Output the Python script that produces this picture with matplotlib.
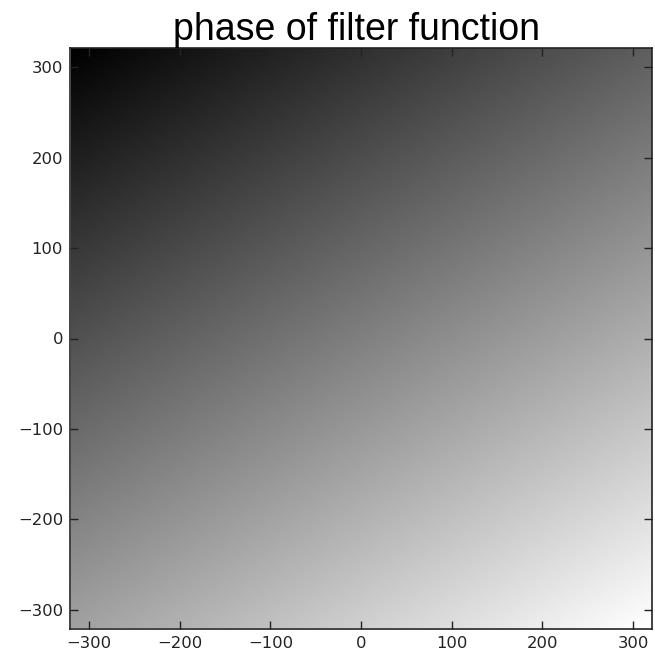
import numpy as np
import matplotlib
matplotlib.use("Agg")
import matplotlib.pyplot as plt

# Data: linear phase ramp of the filter function, sampled on a square grid
grid_half_width = 320          # samples run from -320 to 320
phase_slope_x = 0.37           # relative phase increase per unit x (read from gray levels)
phase_slope_y = -0.63          # relative phase increase per unit y
tick_values = [-300, -200, -100, 0, 100, 200, 300]
title_text = "phase of filter function"

coords = np.arange(-grid_half_width, grid_half_width + 1)
X, Y = np.meshgrid(coords, coords)
phase = phase_slope_x * X + phase_slope_y * Y

fig = plt.figure(figsize=(6.55, 6.54), dpi=100)
ax = fig.add_axes([70 / 655, (654 - 629) / 654, 582 / 655, 581 / 654])
ax.imshow(phase, cmap="gray", origin="lower",
          extent=[-grid_half_width, grid_half_width, -grid_half_width, grid_half_width],
          interpolation="bilinear", aspect="auto")
ax.set_xlim(-321, 321)
ax.set_ylim(-321, 321)
ax.set_xticks(tick_values)
ax.set_yticks(tick_values)
labels = [("\u2212" if v < 0 else "") + str(abs(v)) for v in tick_values]
ax.set_xticklabels(labels, family="DejaVu Sans", fontsize=11.8)
ax.set_yticklabels(labels, family="DejaVu Sans", fontsize=11.8)
ax.tick_params(direction="in", top=True, right=True, length=6, width=1,
               pad=5, colors="#222222", labelcolor="#222222")
for s in ax.spines.values():
    s.set_linewidth(1.2)
    s.set_color("#222222")
ax.set_title(title_text, fontsize=27, family="Liberation Sans", pad=6, x=0.492)
fig.savefig("out.png", dpi=100)
